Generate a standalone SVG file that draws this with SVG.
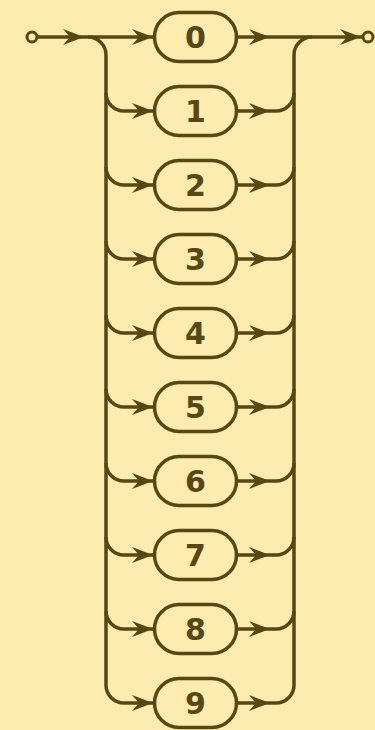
<svg xmlns="http://www.w3.org/2000/svg" xmlns:xlink="http://www.w3.org/1999/xlink" width="375" height="730" viewBox="0 0 375 730">
<style>
.ln{fill:none;stroke:#5a4611;stroke-width:3.5;}
.bx{fill:none;stroke:#5a4611;stroke-width:3.5;}
.tx{font-family:"DejaVu Sans",sans-serif;font-weight:bold;font-size:30px;fill:#5a4611;text-anchor:middle;}
.ah{fill:#5a4611;}
.ep{fill:#fdebb0;stroke:#5a4611;stroke-width:3;}
</style>
<defs>
<path id="ah" class="ah" d="M0,0 L-21,-8 L-14,0 L-21,8 Z"/>
</defs>
<rect width="375" height="730" fill="#fdebb0"/>
<g id="connectors">
<path class="ln" d="M37,37 H154.5"/>
<path class="ln" d="M236.5,37 H363"/>
<path class="ln" d="M88,37 A18,18 0 0 1 106,55 V685"/>
<path class="ln" d="M312,37 A18,18 0 0 0 294,55 V685"/>
<use href="#ah" x="84" y="37"/>
<use href="#ah" x="153" y="37"/>
<use href="#ah" x="270" y="37"/>
<use href="#ah" x="361" y="37"/>
<path class="ln" d="M106,93 A18,18 0 0 0 124,111 H154.5 M236.5,111 H276 A18,18 0 0 0 294,93"/>
<use href="#ah" x="153" y="111"/><use href="#ah" x="270" y="111"/>
<path class="ln" d="M106,167 A18,18 0 0 0 124,185 H154.5 M236.5,185 H276 A18,18 0 0 0 294,167"/>
<use href="#ah" x="153" y="185"/><use href="#ah" x="270" y="185"/>
<path class="ln" d="M106,241 A18,18 0 0 0 124,259 H154.5 M236.5,259 H276 A18,18 0 0 0 294,241"/>
<use href="#ah" x="153" y="259"/><use href="#ah" x="270" y="259"/>
<path class="ln" d="M106,315 A18,18 0 0 0 124,333 H154.5 M236.5,333 H276 A18,18 0 0 0 294,315"/>
<use href="#ah" x="153" y="333"/><use href="#ah" x="270" y="333"/>
<path class="ln" d="M106,389 A18,18 0 0 0 124,407 H154.5 M236.5,407 H276 A18,18 0 0 0 294,389"/>
<use href="#ah" x="153" y="407"/><use href="#ah" x="270" y="407"/>
<path class="ln" d="M106,463 A18,18 0 0 0 124,481 H154.5 M236.5,481 H276 A18,18 0 0 0 294,463"/>
<use href="#ah" x="153" y="481"/><use href="#ah" x="270" y="481"/>
<path class="ln" d="M106,537 A18,18 0 0 0 124,555 H154.5 M236.5,555 H276 A18,18 0 0 0 294,537"/>
<use href="#ah" x="153" y="555"/><use href="#ah" x="270" y="555"/>
<path class="ln" d="M106,611 A18,18 0 0 0 124,629 H154.5 M236.5,629 H276 A18,18 0 0 0 294,611"/>
<use href="#ah" x="153" y="629"/><use href="#ah" x="270" y="629"/>
<path class="ln" d="M106,685 A18,18 0 0 0 124,703 H154.5 M236.5,703 H276 A18,18 0 0 0 294,685"/>
<use href="#ah" x="153" y="703"/><use href="#ah" x="270" y="703"/>
</g>
<g id="start"><circle class="ep" cx="32" cy="37" r="5"/></g>
<g id="end"><circle class="ep" cx="368" cy="37" r="5"/></g>
<g id="n0"><rect class="bx" x="154.5" y="12.5" width="82" height="49" rx="24.5"/><text class="tx" x="195.5" y="48">0</text></g>
<g id="n1"><rect class="bx" x="154.5" y="86.5" width="82" height="49" rx="24.5"/><text class="tx" x="195.5" y="122">1</text></g>
<g id="n2"><rect class="bx" x="154.5" y="160.5" width="82" height="49" rx="24.5"/><text class="tx" x="195.5" y="196">2</text></g>
<g id="n3"><rect class="bx" x="154.5" y="234.5" width="82" height="49" rx="24.5"/><text class="tx" x="195.5" y="270">3</text></g>
<g id="n4"><rect class="bx" x="154.5" y="308.5" width="82" height="49" rx="24.5"/><text class="tx" x="195.5" y="344">4</text></g>
<g id="n5"><rect class="bx" x="154.5" y="382.5" width="82" height="49" rx="24.5"/><text class="tx" x="195.5" y="418">5</text></g>
<g id="n6"><rect class="bx" x="154.5" y="456.5" width="82" height="49" rx="24.5"/><text class="tx" x="195.5" y="492">6</text></g>
<g id="n7"><rect class="bx" x="154.5" y="530.5" width="82" height="49" rx="24.5"/><text class="tx" x="195.5" y="566">7</text></g>
<g id="n8"><rect class="bx" x="154.5" y="604.5" width="82" height="49" rx="24.5"/><text class="tx" x="195.5" y="640">8</text></g>
<g id="n9"><rect class="bx" x="154.5" y="678.5" width="82" height="49" rx="24.5"/><text class="tx" x="195.5" y="714">9</text></g>
</svg>
